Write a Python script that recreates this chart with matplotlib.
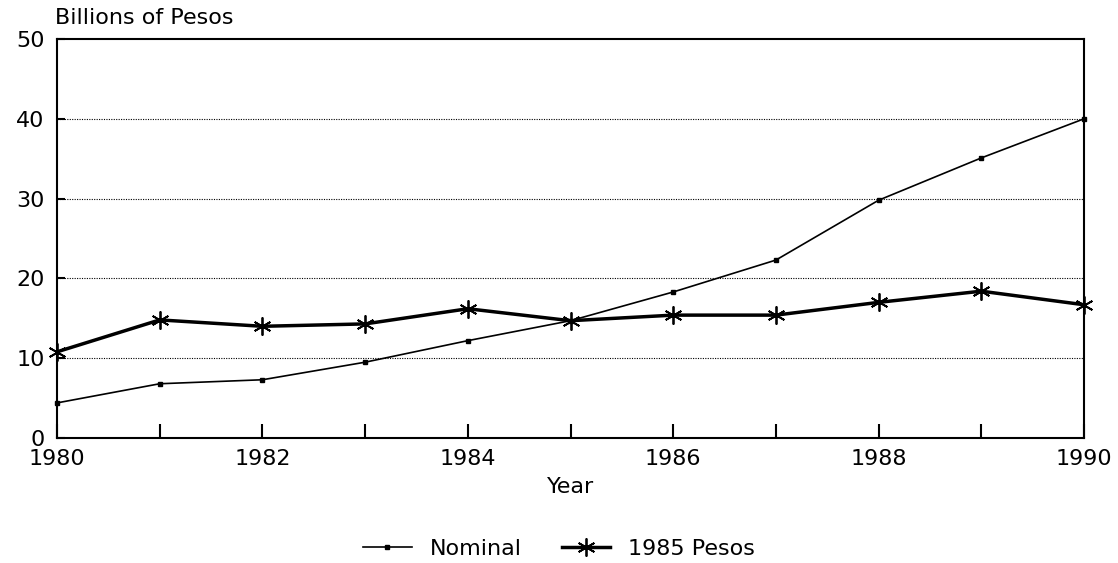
import matplotlib
matplotlib.use('Agg')
import matplotlib.pyplot as plt

years = [1980, 1981, 1982, 1983, 1984, 1985, 1986, 1987, 1988, 1989, 1990]
nominal = [4.4, 6.8, 7.3, 9.5, 12.2, 14.7, 18.3, 22.3, 29.8, 35.1, 40.0]
pesos85 = [10.8, 14.8, 14.0, 14.3, 16.2, 14.7, 15.4, 15.4, 17.0, 18.4, 16.7]

plt.rcParams['font.family'] = 'DejaVu Sans'

fig = plt.figure(figsize=(11.18, 5.63), dpi=100)
ax = fig.add_axes([0.051, 0.222, 0.9186, 0.7087])

ax.plot(years, nominal, color='black', lw=1.2, marker='s', ms=3, label='Nominal',
        clip_on=False)
ax.plot(years, pesos85, color='black', lw=2.5, marker=(6, 2, 0), ms=13, mew=1.3,
        label='1985 Pesos', clip_on=False)

ax.set_xlim(1980, 1990)
ax.set_ylim(0, 50)
ax.set_xticks(years)
ax.set_xticklabels([str(y) if y % 2 == 0 else '' for y in years])
ax.set_yticks([0, 10, 20, 30, 40, 50])
for v in [10, 20, 30, 40]:
    ax.axhline(v, color='black', lw=0.8, ls=(0, (1, 1.2)), zorder=0)

ax.tick_params(axis='x', direction='in', length=10, width=1.5, labelsize=16, pad=8)
ax.tick_params(axis='y', direction='in', length=6, width=1.5, labelsize=16, pad=9)
for s in ax.spines.values():
    s.set_linewidth(1.5)

fig.text(0.049, 0.968, 'Billions of Pesos', fontsize=16, va='center', ha='left')
ax.set_xlabel('Year', fontsize=16, labelpad=6)

fig.legend(loc='center', bbox_to_anchor=(0.5, 0.025), ncol=2, frameon=False,
           fontsize=16, handlelength=2.2, columnspacing=1.8)

plt.savefig('out.png', dpi=100)
